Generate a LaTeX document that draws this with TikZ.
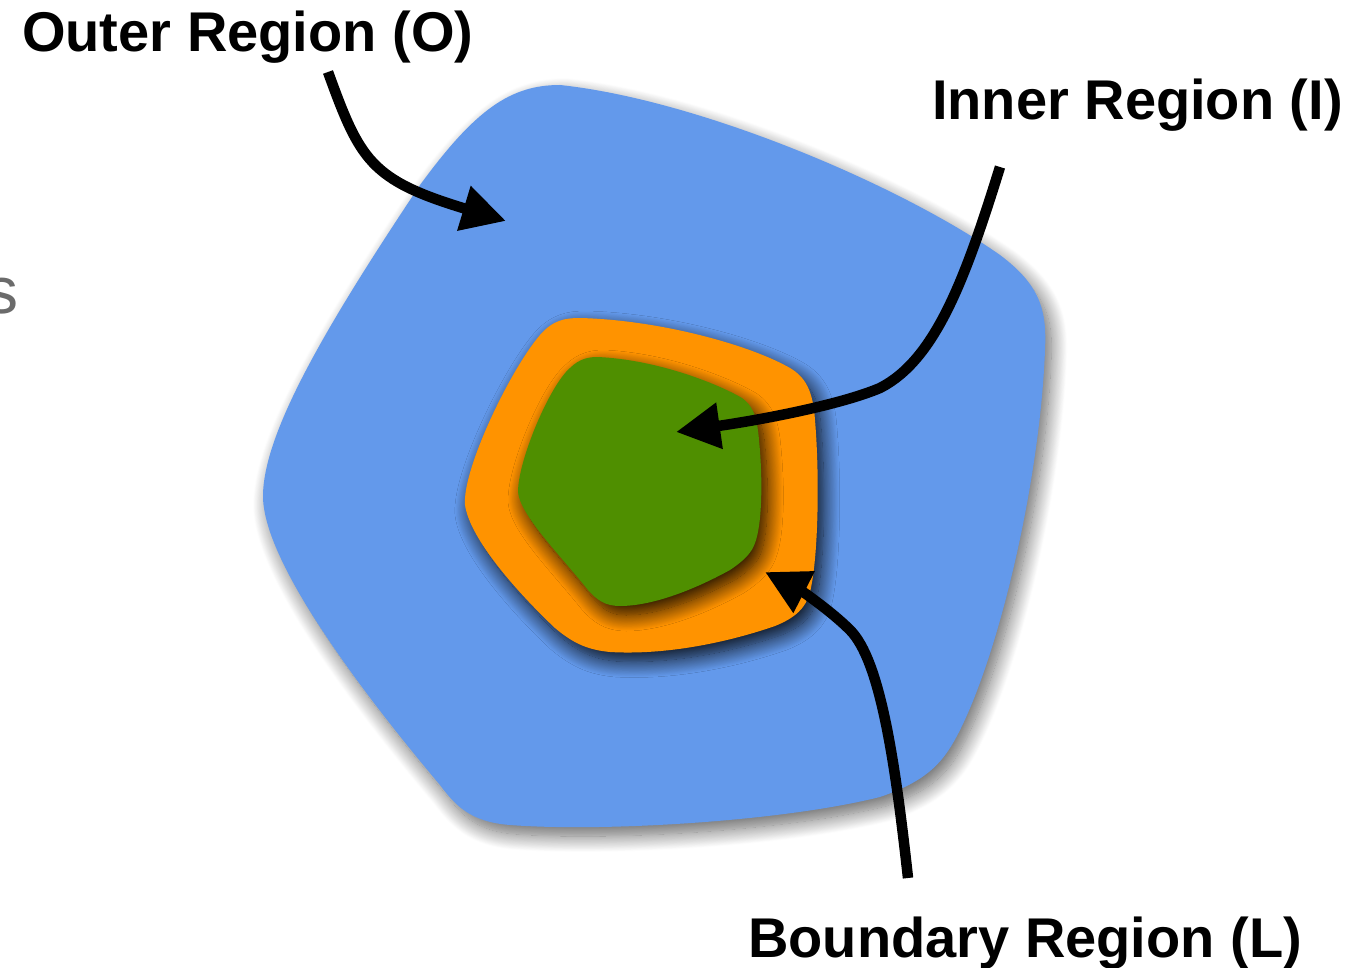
\documentclass[tikz,border=0pt]{standalone}
\usepackage{fontspec}
\setmainfont{Liberation Sans}
\usetikzlibrary{arrows.meta,shadows.blur}
\definecolor{outerblue}{RGB}{99,153,235}
\definecolor{boundorange}{RGB}{255,147,0}
\definecolor{innergreen}{RGB}{79,143,0}
\definecolor{cutgray}{RGB}{107,107,107}
\tikzset{
  softshadow/.style={blur shadow={shadow xshift=6pt, shadow yshift=-9pt, shadow blur radius=16pt, shadow blur steps=20, shadow opacity=#1}},
  softshadow/.default=50,
  pointer/.style={draw=black, line width=10.5pt, -{Triangle[length=44pt,width=44pt]}},
  biglabel/.style={font=\fontsize{56}{66}\selectfont\bfseries, inner sep=0pt, anchor=base west, text=black},
}
\begin{document}
\begin{tikzpicture}[x=1pt,y=-1pt]
\useasboundingbox (0,0) rectangle (1360,968);
% cut-off letter at the left edge
\node[font=\fontsize{66}{70}\selectfont, text=cutgray, inner sep=0pt, anchor=base east] (cut) at (19,314) {s};
% outer region
\path[fill=outerblue, softshadow=60]
  (560,85) .. controls (700,100) and (900,185) .. (1000,255)
  .. controls (1040,285) and (1047,310) .. (1045,350)
  .. controls (1040,480) and (1000,650) .. (960,730)
  .. controls (945,760) and (930,780) .. (880,797)
  .. controls (780,822) and (600,832) .. (510,825)
  .. controls (470,822) and (455,805) .. (440,785)
  .. controls (360,690) and (262,560) .. (263,495)
  .. controls (264,430) and (330,320) .. (420,185)
  .. controls (475,110) and (510,85) .. (560,85) -- cycle;
% boundary region
\path[fill=boundorange, softshadow=90]
  (580,318) .. controls (660,320) and (750,345) .. (790,368)
  .. controls (805,377) and (813,390) .. (815,420)
  .. controls (820,480) and (818,560) .. (810,592)
  .. controls (806,608) and (795,618) .. (775,626)
  .. controls (720,645) and (660,655) .. (610,652)
  .. controls (590,650) and (575,645) .. (555,628)
  .. controls (520,595) and (470,540) .. (465,505)
  .. controls (462,470) and (510,370) .. (540,335)
  .. controls (553,320) and (565,318) .. (580,318) -- cycle;
% inner region
\path[fill=innergreen, softshadow=90]
  (598,357) .. controls (660,360) and (720,385) .. (742,398)
  .. controls (752,405) and (757,415) .. (759,440)
  .. controls (763,480) and (762,525) .. (755,543)
  .. controls (752,552) and (745,560) .. (730,570)
  .. controls (690,592) and (650,606) .. (620,606)
  .. controls (605,606) and (597,600) .. (588,590)
  .. controls (560,555) and (520,515) .. (518,492)
  .. controls (518,460) and (550,385) .. (570,368)
  .. controls (580,358) and (590,357) .. (598,357) -- cycle;
% labels
\node[biglabel] (outerlbl) at (22,52) {Outer Region (O)};
\node[biglabel] (innerlbl) at (932,120) {Inner Region (I)};
\node[biglabel] (boundlbl) at (748,957) {Boundary Region (L)};
% arrow end points
\coordinate (oS) at (328,72);
\coordinate (oT) at (506,221);
\coordinate (iS) at (1000,167);
\coordinate (iM) at (880,388);
\coordinate (iT) at (676,432);
\coordinate (bS) at (908,878);
\coordinate (bM) at (850,630);
\coordinate (bT) at (765,572);
% arrows
\draw[pointer] (oS) .. controls (360,160) and (370,180) .. (oT);
\draw[pointer] (iS) .. controls (965,280) and (935,360) .. (iM)
  .. controls (840,405) and (760,420) .. (iT);
\draw[pointer] (bS) .. controls (895,760) and (880,660) .. (bM)
  .. controls (830,610) and (800,590) .. (bT);
\end{tikzpicture}
\end{document}
